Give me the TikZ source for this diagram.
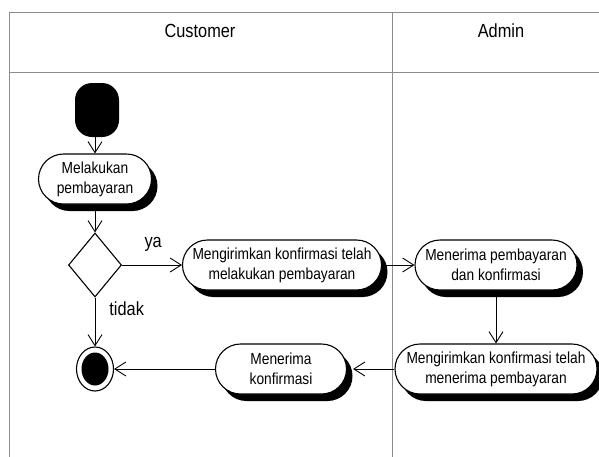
\documentclass[tikz,border=0pt]{standalone}
\usepackage{fontspec}
\setmainfont[FakeStretch=0.86]{Liberation Sans}
\usetikzlibrary{arrows.meta,shapes.geometric,shapes.misc,shadows}
\begin{document}
\begin{tikzpicture}[x=1pt,y=-1pt,
  lane/.style={draw=black!45, line width=0.8pt},
  lanetitle/.style={font=\fontsize{19}{22}\selectfont},
  act/.style={draw, fill=white, line width=1.1pt, rounded rectangle,
    minimum height=50pt, inner sep=1pt, align=center,
    font=\fontsize{16}{20}\selectfont,
    drop shadow={shadow xshift=6pt, shadow yshift=-7pt, fill=black, opacity=1}},
  flow/.style={draw, line width=0.9pt, -{Straight Barb[length=11pt,width=14pt,line width=0.9pt]}},
  guard/.style={font=\fontsize{19}{22}\selectfont, inner sep=0pt}]
\useasboundingbox (0,0) rectangle (599,456);
\clip (0,0) rectangle (599,456);

% swimlanes
\draw[lane] (9,460) -- (9,12) -- (605,12);
\draw[lane] (9,72) -- (605,72);
\draw[lane] (392,12) -- (392,460);
\node[lanetitle] (customer) at (200,31) {Customer};
\node[lanetitle] (admin) at (501,31) {Admin};

% initial node
\node[fill=black, rectangle, rounded corners=17pt, minimum width=44pt,
  minimum height=54pt, inner sep=0pt] (start) at (97,110) {};

% activities
\node[act, minimum width=115pt] (a1) at (95,179) {Melakukan\\pembayaran};
\node[act, minimum width=201pt] (a2) at (282,265) {Mengirimkan konfirmasi telah\\melakukan pembayaran};
\node[act, minimum width=164pt] (a3) at (496,265) {Menerima pembayaran\\dan konfirmasi};
\node[act, minimum width=204pt] (a4) at (496,369) {Mengirimkan konfirmasi telah\\menerima pembayaran};
\node[act, minimum width=133pt] (a5) at (281,369) {Menerima\\konfirmasi};

% decision
\node[diamond, draw, line width=1.1pt, minimum width=53pt, minimum height=64pt,
  inner sep=0pt] (dec) at (95,265) {};

% final node
\node[ellipse, draw, line width=1.1pt, minimum width=37pt, minimum height=44pt,
  inner sep=0pt] (end) at (95,369) {};
\node[ellipse, fill=black, minimum width=27pt, minimum height=33pt,
  inner sep=0pt] (endcore) at (end.center) {};

% flows
\draw[flow] (start.south -| a1.north) -- (a1.north);
\draw[flow] (a1.south) -- (dec.north);
\draw[flow] (dec.east) -- (a2.west)
  node[guard, pos=0.52, above=13pt] (ya) {ya};
\draw[flow] (dec.south) -- (end.north)
  node[guard, pos=0.22, anchor=west, xshift=14pt] (tidak) {tidak};
\draw[flow] (a2.east) -- (a3.west);
\draw[flow] (a3.south) -- (a4.north);
\draw[flow] (a4.west) -- ([xshift=6pt]a5.east);
\draw[flow] (a5.west) -- (end.east);
\end{tikzpicture}
\end{document}
